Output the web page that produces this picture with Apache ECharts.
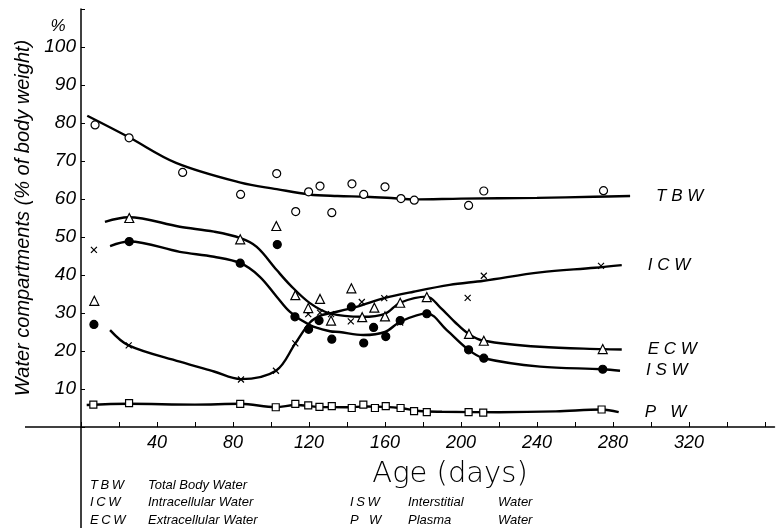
<!DOCTYPE html>
<html>
<head>
<meta charset="utf-8">
<script src="https://cdn.jsdelivr.net/npm/echarts@6/dist/echarts.min.js"></script>
<style>
  html, body { margin: 0; padding: 0; background: #fff; }
  #chart { width: 776px; height: 528px; }
</style>
</head>
<body>
<div id="chart"></div>
<script>
// measured points [age in days, % of body weight]
var tbwPoints = [[7.4, 79.5], [25.3, 76.1], [53.5, 67.0], [84, 61.2], [103, 66.7], [113, 56.7], [119.8, 61.9], [125.8, 63.4], [132, 56.4], [142.6, 64.0], [148.8, 61.2], [160, 63.2], [168.4, 60.1], [175.4, 59.7], [204, 58.3], [212, 62.1], [275, 62.2]]
var icwPoints = [[6.8, 46.6], [25.1, 21.5], [84.2, 12.5], [102.6, 14.8], [112.8, 22.0], [119.6, 29.7], [125.8, 30.1], [131.6, 29.7], [142, 27.8], [147.8, 32.9], [159.6, 33.9], [168, 27.5], [203.5, 34.0], [212, 39.8], [273.7, 42.4]]
var ecwPoints = [[7, 33.2], [25.4, 55.0], [83.8, 49.4], [102.8, 52.9], [112.8, 34.7], [119.6, 31.3], [125.8, 33.7], [131.6, 28.0], [142.3, 36.5], [148, 28.9], [154.4, 31.4], [160, 29.1], [168, 32.7], [182, 34.2], [204.2, 24.5], [212, 22.7], [274.6, 20.5]]
var iswPoints = [[6.8, 27.0], [25.4, 48.8], [83.8, 43.1], [103.3, 48.0], [112.6, 29.0], [119.8, 25.7], [125.3, 28.0], [132, 23.1], [142.3, 31.6], [148.8, 22.1], [154, 26.2], [160.4, 23.8], [168, 28.0], [182, 29.8], [204, 20.3], [212, 18.1], [274.6, 15.2]]
var pwPoints = [[6.5, 5.9], [25.3, 6.3], [83.8, 6.1], [102.5, 5.2], [112.8, 6.1], [119.6, 5.7], [125.5, 5.3], [132, 5.5], [142.5, 5.0], [148.6, 5.9], [154.7, 5.0], [160.4, 5.5], [168.2, 5.0], [175.3, 4.2], [182, 3.9], [204, 3.9], [211.7, 3.8], [274, 4.6]]

// hand drawn curves through them
var tbwCurve = [[3.3, 81.9], [25, 76.3], [50, 69.5], [84, 64.3], [103, 62.6], [120, 61.2], [135, 60.8], [150, 60.6], [165, 60.2], [175, 59.9], [200, 60.1], [240, 60.3], [270, 60.6], [289, 60.8]]
var icwCurve = [[15.3, 25.5], [25, 21.5], [52, 17.2], [70, 14.6], [84, 12.6], [102.6, 14.8], [112.8, 22.0], [120.5, 27.5], [126, 29.3], [131, 29.9], [145, 31.6], [159.6, 33.9], [175, 35.6], [194, 37.4], [212, 38.5], [241.6, 40.7], [270.5, 41.9], [284.6, 42.6]]
var ecwCurve = [[12.6, 54.0], [25, 55.2], [52, 52.7], [70, 51.4], [84, 49.7], [92.5, 47.4], [103, 41.3], [110, 37.4], [120.5, 32.6], [131, 29.9], [148, 29.0], [160, 29.8], [168, 32.7], [182, 34.3], [189, 31.5], [197, 27.5], [204, 24.5], [212, 22.7], [241.6, 21.1], [274.6, 20.5], [284.6, 20.4]]
var iswCurve = [[15.3, 47.6], [25.4, 48.8], [52, 46.1], [70, 44.8], [84, 43.1], [94, 39.6], [103, 34.3], [110, 30.3], [120.5, 26.8], [131, 25.2], [136, 25.0], [148.6, 24.2], [160, 25.0], [168, 27.7], [182, 29.9], [192.5, 25.5], [204, 20.3], [212, 18.1], [241.6, 15.9], [274.6, 15.2], [283.7, 14.8]]
var pwCurve = [[3, 5.8], [25, 6.1], [60, 5.9], [84, 6.1], [102.5, 5.2], [113, 5.8], [125, 5.3], [140, 5.2], [150, 5.4], [160, 5.3], [168, 5.0], [178, 4.2], [190, 4.0], [220, 3.9], [250, 4.1], [274, 4.6], [283, 3.9]]

var seriesNames = ['T B W', 'I C W', 'E C W', 'I S W', 'P   W']
var legendAbbr = ['T\u2009B\u2009W', 'I\u2009C\u2009W', 'E\u2009C\u2009W', 'I\u2009S\u2009W', 'P\u2009\u2009\u2009\u2009W']
var legendText = ['Total Body Water', 'Intracellular Water', 'Extracellular Water', 'Interstitial', 'Plasma']
var yLabels = [10, 20, 30, 40, 50, 60, 70, 80, 90, 100]
var xLabels = [40, 80, 120, 160, 200, 240, 280, 320]

var FONT = "'Liberation Sans', Arial, sans-serif"
var cross = 'path://M0,0L10,10M10,0L0,10'

var myChart = echarts.init(document.getElementById('chart'), null, { renderer: 'canvas' })

function curve (name, data) {
  return {
    name: name,
    type: 'line',
    data: data,
    smooth: 0.35,
    symbol: 'none',
    z: 2,
    lineStyle: { color: '#000', width: 2.4 },
    endLabel: {
      show: true,
      formatter: '{a}',
      distance: 26,
      color: '#000',
      fontFamily: FONT,
      fontStyle: 'italic',
      fontSize: 17
    }
  }
}

function dots (data, symbol, size, fill) {
  return {
    type: 'scatter',
    data: data,
    symbol: symbol,
    symbolSize: size,
    z: 5,
    itemStyle: { color: fill, borderColor: '#000', borderWidth: 1.2, opacity: 1 }
  }
}

myChart.setOption({
  animation: false,
  backgroundColor: '#fff',
  grid: { left: 81, top: 9, width: 693.5, height: 418, containLabel: false, outerBoundsMode: 'none' },
  xAxis: {
    type: 'value',
    min: 0,
    max: 365,
    interval: 20,
    splitLine: { show: false },
    axisLine: { lineStyle: { color: '#000', width: 1.5 } },
    axisTick: { inside: true, length: 5, lineStyle: { color: '#000', width: 1 } },
    axisLabel: {
      margin: 7,
      color: '#000',
      fontFamily: FONT,
      fontStyle: 'italic',
      fontSize: 18,
      showMaxLabel: false,
      formatter: function (v) { return xLabels.indexOf(v) >= 0 ? String(v) : '' }
    }
  },
  yAxis: {
    type: 'value',
    min: 0,
    max: 110,
    interval: 10,
    name: 'Water compartments (% of body weight)',
    nameLocation: 'middle',
    nameGap: 47,
    nameTextStyle: { color: '#000', fontFamily: FONT, fontStyle: 'italic', fontSize: 20 },
    splitLine: { show: false },
    axisLine: { lineStyle: { color: '#000', width: 1.5 } },
    axisTick: { inside: true, length: 4, lineStyle: { color: '#000', width: 1 } },
    axisLabel: {
      margin: 5,
      color: '#000',
      fontFamily: FONT,
      fontStyle: 'italic',
      fontSize: 19,
      formatter: function (v) { return yLabels.indexOf(v) >= 0 ? String(v) : '' }
    }
  },
  series: [
    curve(seriesNames[0], tbwCurve),
    curve(seriesNames[1], icwCurve),
    curve(seriesNames[2], ecwCurve),
    curve(seriesNames[3], iswCurve),
    curve(seriesNames[4], pwCurve),
    dots(tbwPoints, 'circle', 8, '#fff'),
    dots(icwPoints, cross, 6, '#fff'),
    dots(ecwPoints, 'triangle', 9, '#fff'),
    dots(iswPoints, 'circle', 8, '#000'),
    dots(pwPoints, 'rect', 7, '#fff')
  ]
})

// axis extensions, "%" mark, x-axis title and key, placed from the grid origin
var origin = myChart.convertToPixel({ gridIndex: 0 }, [0, 0])
var pctPos = myChart.convertToPixel({ gridIndex: 0 }, [0, 105.5])
var txt = { fill: '#000', fontFamily: FONT, fontStyle: 'italic', fontSize: 13 }
var graphics = [
  { type: 'line', shape: { x1: 25, y1: origin[1], x2: origin[0], y2: origin[1] }, style: { stroke: '#000', lineWidth: 1.5 } },
  { type: 'line', shape: { x1: origin[0], y1: origin[1], x2: origin[0], y2: 528 }, style: { stroke: '#000', lineWidth: 1.5 } },
  { type: 'text', x: 58, y: pctPos[1], style: { text: '%', fill: '#000', fontFamily: FONT, fontStyle: 'italic', fontSize: 17, align: 'center', verticalAlign: 'middle' } },
  { type: 'text', x: 450, y: origin[1] + 47, style: { text: 'Age (days)', fill: '#000', fontFamily: "'DejaVu Sans ExtraLight', 'DejaVu Sans', sans-serif", fontWeight: 200, fontSize: 29, align: 'center', verticalAlign: 'middle' } }
]
var keyPos = [[90, 148, 485], [90, 148, 502], [90, 148, 520], [350, 408, 502], [350, 408, 520]]
legendAbbr.forEach(function (a, i) {
  var p = keyPos[i]
  graphics.push({ type: 'text', x: p[0], y: p[2], style: Object.assign({ text: a, verticalAlign: 'middle' }, txt) })
  graphics.push({ type: 'text', x: p[1], y: p[2], style: Object.assign({ text: legendText[i], verticalAlign: 'middle' }, txt) })
  if (i >= 3) {
    graphics.push({ type: 'text', x: 498, y: p[2], style: Object.assign({ text: 'Water', verticalAlign: 'middle' }, txt) })
  }
})
myChart.setOption({ graphic: graphics })
</script>
</body>
</html>
